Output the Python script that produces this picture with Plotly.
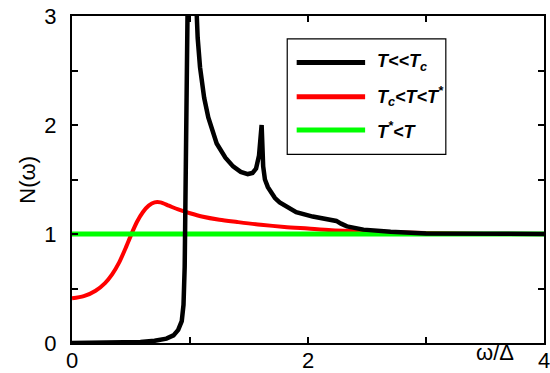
import plotly.graph_objects as go

# Density of states N(omega) vs omega/Delta for three temperature regimes
w_low = [0.0, 0.3, 0.58, 0.7, 0.8, 0.86, 0.9, 0.93, 0.945, 0.955, 0.965, 0.975, 0.985,
         1.035, 1.05, 1.065, 1.085, 1.12, 1.155, 1.19, 1.226, 1.3, 1.365, 1.43, 1.49,
         1.53, 1.56, 1.585, 1.607, 1.62, 1.635, 1.66, 1.68, 1.72, 1.76, 1.83, 1.9, 2.04,
         2.19, 2.24, 2.28, 2.33, 2.47, 2.7, 3.0, 3.5, 4.0]
n_low = [0.0, 0.003, 0.01, 0.02, 0.04, 0.07, 0.12, 0.2, 0.35, 0.7, 1.6, 2.8, 3.6,
         3.6, 3.1, 2.8, 2.53, 2.25, 2.07, 1.94, 1.83, 1.70, 1.62, 1.57, 1.55,
         1.56, 1.6, 1.72, 2.0, 1.62, 1.5, 1.43, 1.39, 1.33, 1.29, 1.24, 1.20, 1.16,
         1.13, 1.12, 1.095, 1.07, 1.04, 1.02, 1.005, 1.0, 1.0]

w_mid = [0.0, 0.1, 0.2, 0.28, 0.34, 0.4, 0.45, 0.5, 0.55, 0.6, 0.65, 0.7, 0.75,
         0.82, 0.9, 1.0, 1.1, 1.25, 1.4, 1.6, 1.8, 2.0, 2.2, 2.6, 3.0, 3.5, 4.0]
n_mid = [0.41, 0.43, 0.48, 0.55, 0.63, 0.74, 0.86, 0.99, 1.11, 1.20, 1.26, 1.29, 1.29,
         1.26, 1.225, 1.19, 1.16, 1.13, 1.11, 1.085, 1.065, 1.05, 1.035, 1.02, 1.01, 1.0, 1.0]

w_high = [0.0, 4.0]
n_high = [1.0, 1.0]

labels = ["T&lt;&lt;T<sub>c</sub>", "T<sub>c</sub>&lt;T&lt;T<sup>*</sup>", "T<sup>*</sup>&lt;T"]
colors = ["#000000", "#ff0000", "#00ff00"]

x_ticks = [0, 1, 2, 3, 4]
x_ticktext = ["0", "", "2", "", "4"]
y_ticks = [0, 0.5, 1, 1.5, 2, 2.5, 3]
y_ticktext = ["0", "", "1", "", "2", "", "3"]

FONT = "Liberation Sans, Arial, sans-serif"

fig = go.Figure()
fig.add_trace(go.Scatter(x=w_mid, y=n_mid, mode="lines",
                         line=dict(color=colors[1], width=4, shape="spline", smoothing=0.8)))
fig.add_trace(go.Scatter(x=w_high, y=n_high, mode="lines",
                         line=dict(color=colors[2], width=5)))
fig.add_trace(go.Scatter(x=w_low, y=n_low, mode="lines",
                         line=dict(color=colors[0], width=4.5)))

axis_common = dict(showgrid=False, zeroline=False, showline=True, linecolor="black",
                   linewidth=2, mirror="ticks", ticks="inside", ticklen=6, tickwidth=1.5,
                   tickcolor="black", automargin=False, ticklabeloverflow="allow",
                   tickfont=dict(family=FONT, size=22, color="black"))

fig.update_xaxes(range=[0, 4], tickvals=x_ticks, ticktext=x_ticktext,
                 ticklabelstandoff=-3, **axis_common)
fig.update_yaxes(range=[0, 3], tickvals=y_ticks, ticktext=y_ticktext,
                 ticklabelstandoff=9, **axis_common)

# Legend drawn as a framed box with line samples and labels
box = dict(x0=0.456, x1=0.792, y0=0.577, y1=0.930)
rows = [0.858, 0.753, 0.651]
shapes = [dict(type="rect", xref="paper", yref="paper", line=dict(color="black", width=1.2),
               fillcolor="white", **box)]
annotations = []
for lab, col, yy in zip(labels, colors, rows):
    shapes.append(dict(type="line", xref="paper", yref="paper", x0=0.476, x1=0.621,
                       y0=yy, y1=yy, line=dict(color=col, width=5)))
    annotations.append(dict(xref="paper", yref="paper", x=0.641, y=yy, xanchor="left",
                            yanchor="middle", showarrow=False,
                            text="<b><i>" + lab + "</i></b>",
                            font=dict(family=FONT, size=18, color="black")))

annotations.append(dict(xref="paper", yref="paper", x=-0.095, y=0.5, textangle=-90,
                        xanchor="center", yanchor="middle", showarrow=False,
                        text="N(ω)", font=dict(family=FONT, size=22, color="black")))
annotations.append(dict(xref="paper", yref="paper", x=0.896, y=-0.028,
                        xanchor="center", yanchor="middle", showarrow=False,
                        text="ω/Δ", font=dict(family=FONT, size=22, color="black")))

fig.update_layout(width=550, height=373, margin=dict(l=72, r=6, t=16, b=30),
                  paper_bgcolor="white", plot_bgcolor="white", showlegend=False,
                  shapes=shapes, annotations=annotations)

fig.write_html("out.html")
